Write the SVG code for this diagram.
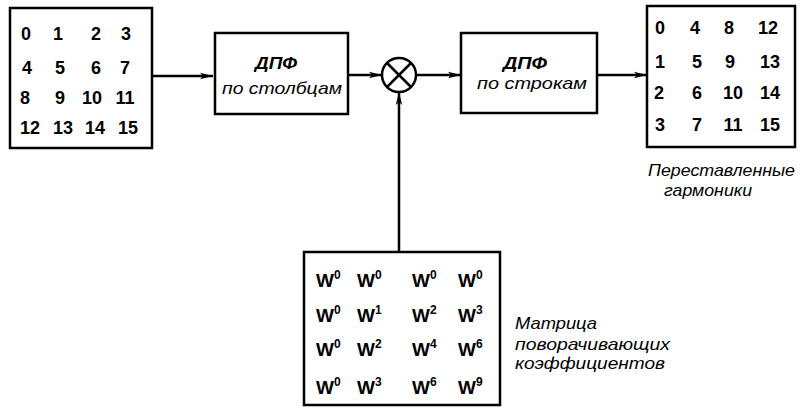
<svg xmlns="http://www.w3.org/2000/svg" width="802" height="408" viewBox="0 0 802 408">
<style>
.box{fill:none;stroke:#000;stroke-width:2.5}
.ln{fill:none;stroke:#000;stroke-width:2.5}
.num{font-family:"Liberation Sans",Arial,sans-serif;font-size:18px;font-weight:bold;text-anchor:middle;fill:#000}
.lbl{font-family:"Liberation Sans",Arial,sans-serif;font-size:17px;font-style:italic;fill:#000}
.w{font-family:"Liberation Sans",Arial,sans-serif;font-size:19px;font-weight:bold;fill:#000}
.sup{font-size:12px}
</style>
<defs>
<marker id="arr" markerWidth="14" markerHeight="8" refX="13" refY="4" orient="auto" markerUnits="userSpaceOnUse">
<path d="M0,0.8 L13,4 L0,7.2 L3,4 Z" fill="#000"/>
</marker>
</defs>
<rect width="802" height="408" fill="#fff"/>
<g id="connectors">
<line class="ln" x1="152" y1="76" x2="213" y2="76" marker-end="url(#arr)"/>
<line class="ln" x1="348" y1="75" x2="382" y2="75" marker-end="url(#arr)"/>
<line class="ln" x1="416" y1="75" x2="461" y2="75" marker-end="url(#arr)"/>
<line class="ln" x1="597" y1="75" x2="647" y2="75" marker-end="url(#arr)"/>
<line class="ln" x1="399" y1="252" x2="399" y2="92" marker-end="url(#arr)"/>
</g>
<g id="input-matrix">
<rect class="box" x="10" y="8" width="142" height="140"/>
<text class="num" x="26" y="40">0</text><text class="num" x="58" y="40">1</text><text class="num" x="96" y="40">2</text><text class="num" x="126" y="40">3</text>
<text class="num" x="27" y="74">4</text><text class="num" x="60" y="74">5</text><text class="num" x="96" y="74">6</text><text class="num" x="125" y="74">7</text>
<text class="num" x="25" y="104">8</text><text class="num" x="60" y="104">9</text><text class="num" x="92" y="104">10</text><text class="num" x="125" y="104">11</text>
<text class="num" x="30" y="134">12</text><text class="num" x="63" y="134">13</text><text class="num" x="95" y="134">14</text><text class="num" x="128" y="134">15</text>
</g>
<g id="dft-columns">
<rect class="box" x="215" y="33" width="133" height="81"/>
<text class="lbl" x="255" y="69" font-weight="bold" textLength="42" lengthAdjust="spacingAndGlyphs">ДПФ</text>
<text class="lbl" x="222" y="94" textLength="120" lengthAdjust="spacingAndGlyphs">по столбцам</text>
</g>
<g id="multiplier">
<circle cx="399" cy="75" r="17" fill="#fff" stroke="#000" stroke-width="2.5"/>
<line class="ln" x1="387" y1="63" x2="411" y2="87"/>
<line class="ln" x1="411" y1="63" x2="387" y2="87"/>
</g>
<g id="dft-rows">
<rect class="box" x="461" y="33" width="136" height="80"/>
<text class="lbl" x="503" y="69" font-weight="bold" textLength="44" lengthAdjust="spacingAndGlyphs">ДПФ</text>
<text class="lbl" x="477" y="89" textLength="110" lengthAdjust="spacingAndGlyphs">по строкам</text>
</g>
<g id="output-matrix">
<rect class="box" x="647" y="6" width="148" height="141"/>
<text class="num" x="660" y="34">0</text><text class="num" x="695" y="34">4</text><text class="num" x="729" y="34">8</text><text class="num" x="768" y="34">12</text>
<text class="num" x="660" y="68">1</text><text class="num" x="697" y="68">5</text><text class="num" x="730" y="68">9</text><text class="num" x="770" y="68">13</text>
<text class="num" x="659" y="99">2</text><text class="num" x="697" y="99">6</text><text class="num" x="733" y="99">10</text><text class="num" x="770" y="99">14</text>
<text class="num" x="660" y="131">3</text><text class="num" x="697" y="131">7</text><text class="num" x="733" y="131">11</text><text class="num" x="770" y="131">15</text>
<text class="lbl" x="648" y="176" textLength="147" lengthAdjust="spacingAndGlyphs">Переставленные</text>
<text class="lbl" x="664" y="196" textLength="88" lengthAdjust="spacingAndGlyphs">гармоники</text>
</g>
<g id="twiddle-matrix">
<rect class="box" x="304" y="252" width="196" height="153"/>
<text class="w" x="316" y="287">W<tspan class="sup" dy="-8">0</tspan></text>
<text class="w" x="357" y="287">W<tspan class="sup" dy="-8">0</tspan></text>
<text class="w" x="412" y="287">W<tspan class="sup" dy="-8">0</tspan></text>
<text class="w" x="458" y="287">W<tspan class="sup" dy="-8">0</tspan></text>
<text class="w" x="316" y="322">W<tspan class="sup" dy="-8">0</tspan></text>
<text class="w" x="357" y="322">W<tspan class="sup" dy="-8">1</tspan></text>
<text class="w" x="412" y="322">W<tspan class="sup" dy="-8">2</tspan></text>
<text class="w" x="458" y="322">W<tspan class="sup" dy="-8">3</tspan></text>
<text class="w" x="316" y="356">W<tspan class="sup" dy="-8">0</tspan></text>
<text class="w" x="357" y="356">W<tspan class="sup" dy="-8">2</tspan></text>
<text class="w" x="412" y="356">W<tspan class="sup" dy="-8">4</tspan></text>
<text class="w" x="458" y="356">W<tspan class="sup" dy="-8">6</tspan></text>
<text class="w" x="316" y="394">W<tspan class="sup" dy="-8">0</tspan></text>
<text class="w" x="357" y="394">W<tspan class="sup" dy="-8">3</tspan></text>
<text class="w" x="412" y="394">W<tspan class="sup" dy="-8">6</tspan></text>
<text class="w" x="458" y="394">W<tspan class="sup" dy="-8">9</tspan></text>
<text class="lbl" x="515" y="329" textLength="82" lengthAdjust="spacingAndGlyphs">Матрица</text>
<text class="lbl" x="515" y="350" textLength="155" lengthAdjust="spacingAndGlyphs">поворачивающих</text>
<text class="lbl" x="515" y="369" textLength="150" lengthAdjust="spacingAndGlyphs">коэффициентов</text>
</g>
</svg>
